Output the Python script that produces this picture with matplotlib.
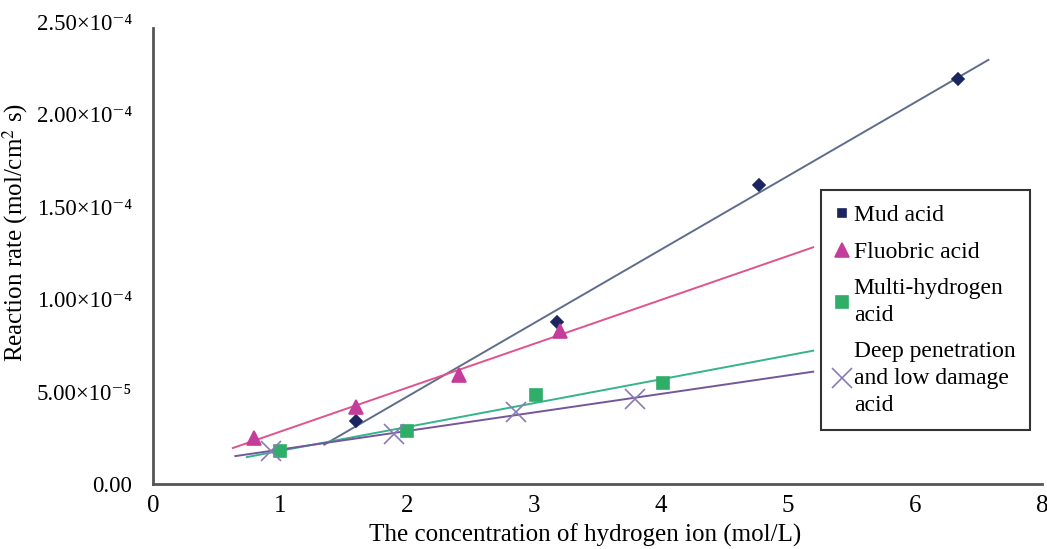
import numpy as np
import matplotlib
matplotlib.use("Agg")
import matplotlib.pyplot as plt

plt.rcParams['font.family'] = ['Liberation Serif', 'DejaVu Serif']
plt.rcParams['mathtext.fontset'] = 'stix'

# data (x: mol/L, y: 1e-4 mol/cm2 s)
mud_x = [1.60, 3.18, 4.77, 6.34]
mud_y = [0.34, 0.88, 1.62, 2.19]
fluo_x = [0.80, 1.60, 2.41, 3.21]
fluo_y = [0.25, 0.42, 0.59, 0.83]
multi_x = [1.00, 2.00, 3.02, 4.02]
multi_y = [0.18, 0.29, 0.48, 0.55]
deep_x = [0.93, 1.90, 2.86, 3.80]
deep_y = [0.18, 0.27, 0.39, 0.46]

# trend line extents
mud_fit = [1.35, 6.58]
fluo_fit = [0.63, 5.2]
multi_fit = [0.74, 5.2]
deep_fit = [0.65, 5.2]

xticks = [0, 1, 2, 3, 4, 5, 6, 7]
xtick_labels = ['0', '1', '2', '3', '4', '5', '6', '8']
yticks = [0, 0.5e-4, 1.0e-4, 1.5e-4, 2.0e-4, 2.5e-4]
ytick_labels = ['0.00', '5.00×10⁻⁵', '1.00×10⁻⁴', '1.50×10⁻⁴', '2.00×10⁻⁴', '2.50×10⁻⁴']

fig = plt.figure(figsize=(10.47, 5.49), dpi=100)
ax = fig.add_axes([0.146, 0.118, 0.849, 0.842])

series = [
    (mud_x, mud_y, mud_fit, 'D', '#1d2560', '#5f6d8c', 'Mud acid', 6),
    (fluo_x, fluo_y, fluo_fit, '^', '#c43d9a', '#e0538e', 'Fluobric acid', 10),
    (multi_x, multi_y, multi_fit, 's', '#2fae6a', '#35b38a', 'Multi-hydrogen\nacid', 8),
    (deep_x, deep_y, deep_fit, 'x', '#8a7bb5', '#74579a', 'Deep penetration\nand low damage\nacid', 14),
]

handles = []
for xs, ys, rng, mk, mc, lc, lab, ms in series:
    xs = np.array(xs)
    ys = np.array(ys) * 1e-4
    k, b = np.polyfit(xs, ys, 1)
    fx = np.array(rng)
    ax.plot(fx, k * fx + b, color=lc, lw=1.4, zorder=2)
    ax.plot(xs, ys, linestyle='none', marker=mk, color=mc, ms=ms,
            mew=1.2, zorder=3)
    hmk = 's' if mk == 'D' else mk
    h, = ax.plot([], [], linestyle='none', marker=hmk, color=mc,
                 ms=(6 if mk == 'D' else ms), mew=1.2, label=lab)
    handles.append(h)

ax.set_xlim(0, 7)
ax.set_ylim(0, 2.5e-4)
ax.set_xticks(xticks)
ax.set_xticklabels(xtick_labels)
ax.set_yticks(yticks)
ax.set_yticklabels(ytick_labels)
ax.tick_params(length=0)
ax.tick_params(axis='y', pad=15, labelsize=16.5)
ax.tick_params(axis='x', pad=8, labelsize=18)

for s in ['top', 'right']:
    ax.spines[s].set_visible(False)
for s in ['left', 'bottom']:
    ax.spines[s].set_color('#555555')
    ax.spines[s].set_linewidth(2)
ax.spines['left'].set_bounds(0, 2.47e-4)

ax.set_xlabel('The concentration of hydrogen ion (mol/L)', fontsize=18)
ax.xaxis.set_label_coords(0.486, -0.085)
ax.set_ylabel('Reaction rate (mol/cm$^2$ s)', fontsize=18)
ax.yaxis.set_label_coords(-0.138, 0.545)

leg = ax.legend(handles=handles, loc='upper left', bbox_to_anchor=(0.738, 0.661),
                fontsize=17, frameon=True, fancybox=False, edgecolor='black',
                handletextpad=0.2, handlelength=0.6, labelspacing=0.65,
                borderpad=0.6)
leg.get_frame().set_linewidth(1.5)
for t in leg.get_texts():
    t.set_linespacing(1.35)

fig.savefig('out.png', dpi=100)
